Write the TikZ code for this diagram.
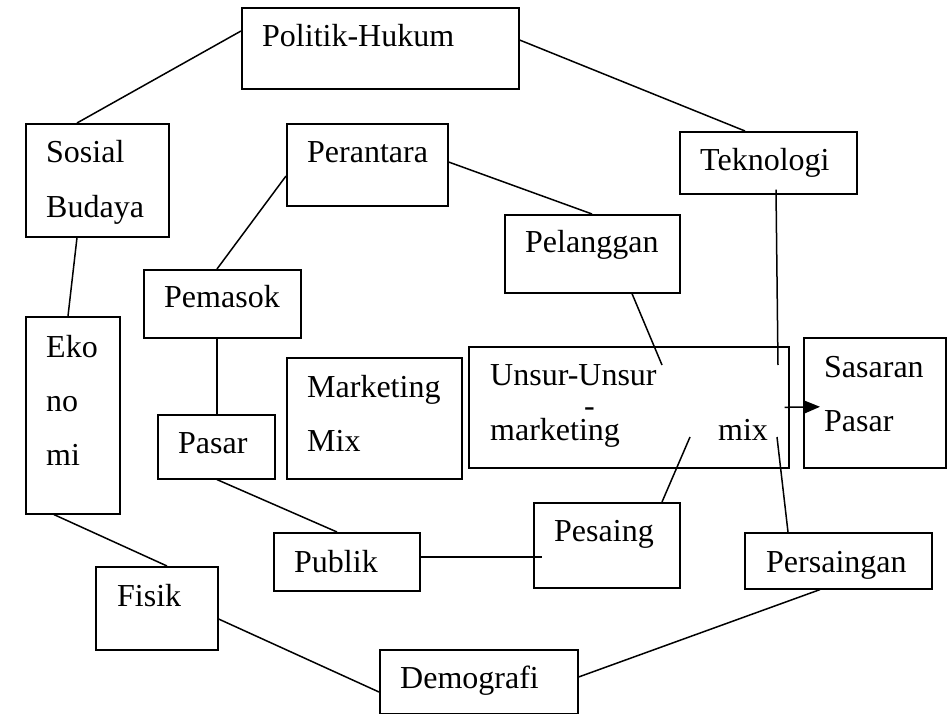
\documentclass[tikz,border=0pt]{standalone}
\usepackage{fontspec}
\setmainfont{Liberation Serif}
\usetikzlibrary{arrows.meta}
\tikzset{
  box/.style={draw, line width=1.6pt, anchor=north west, inner sep=0pt},
  txt/.style={anchor=base west, inner sep=0pt, font=\fontsize{32}{54}\selectfont},
  link/.style={line width=1.5pt}
}
\begin{document}
\begin{tikzpicture}[x=1pt, y=-1pt]
\useasboundingbox (0,0) rectangle (951,714);
% kotak-kotak
\node[box, minimum width=277pt, minimum height=81pt] (politik) at (241,7) {};
\node[box, minimum width=143pt, minimum height=113pt] (sosial) at (25,123) {};
\node[box, minimum width=94pt, minimum height=197pt] (ekonomi) at (25,316) {};
\node[box, minimum width=161pt, minimum height=82pt] (perantara) at (286,123) {};
\node[box, minimum width=157pt, minimum height=68pt] (pemasok) at (143,269) {};
\node[box, minimum width=177pt, minimum height=62pt] (teknologi) at (679,131) {};
\node[box, minimum width=175pt, minimum height=78pt] (pelanggan) at (504,214) {};
\node[box, minimum width=175pt, minimum height=121pt] (mix) at (286,357) {};
\node[box, minimum width=117pt, minimum height=64pt] (pasar) at (157,414) {};
\node[box, minimum width=320pt, minimum height=121pt] (unsur) at (468,346) {};
\node[box, minimum width=142pt, minimum height=130pt] (sasaran) at (803,337) {};
\node[box, minimum width=146pt, minimum height=58pt] (publik) at (273,532) {};
\node[box, minimum width=146pt, minimum height=85pt] (pesaing) at (533,502) {};
\node[box, minimum width=187pt, minimum height=56pt] (persaingan) at (744,532) {};
\node[box, minimum width=122pt, minimum height=83pt] (fisik) at (95,566) {};
\node[box, minimum width=198pt, minimum height=64pt] (demografi) at (379,649) {};

% tulisan
\node[txt] (tPolitik) at (262,47) {Politik-Hukum};
\node[txt] (tSosial) at (46,163) {Sosial};
\node[txt] (tBudaya) at (46,218) {Budaya};
\node[txt] (tEko) at (46,357) {Eko};
\node[txt] (tNo) at (46,411) {no};
\node[txt] (tMi) at (46,465) {mi};
\node[txt] (tPerantara) at (307,163) {Perantara};
\node[txt] (tPemasok) at (164,308) {Pemasok};
\node[txt] (tTeknologi) at (700,171) {Teknologi};
\node[txt] (tPelanggan) at (525,253) {Pelanggan};
\node[txt] (tMarketing) at (307,397) {Marketing};
\node[txt] (tMix) at (307,451) {Mix};
\node[txt] (tPasar) at (178,453) {Pasar};
\node[txt] (tUnsur) at (490,385) {Unsur-Unsur};
\node[txt] (tStrip) at (584,416) {-};
\node[txt] (tMarketing2) at (490,440) {marketing};
\node[txt] (tMix2) at (718,440) {mix};
\node[txt] (tSasaran) at (824,377) {Sasaran};
\node[txt] (tPasar2) at (824,431) {Pasar};
\node[txt] (tPublik) at (294,572) {Publik};
\node[txt] (tPesaing) at (554,541) {Pesaing};
\node[txt] (tPersaingan) at (766,572) {Persaingan};
\node[txt] (tFisik) at (117,606) {Fisik};
\node[txt] (tDemografi) at (400,688) {Demografi};

% garis
\draw[link] ([shift={(0,24)}]politik.north west) -- ([shift={(52,0)}]sosial.north west);
\draw[link] ([shift={(0,33)}]politik.north east) -- ([shift={(66,0)}]teknologi.north west);
\draw[link] ([shift={(52,0)}]sosial.south west) -- ([shift={(43,0)}]ekonomi.north west);
\draw[link] ([shift={(0,53)}]perantara.north west) -- ([shift={(74,0)}]pemasok.north west);
\draw[link] ([shift={(0,39)}]perantara.north east) -- ([shift={(88,0)}]pelanggan.north west);
\draw[link] ([shift={(74,0)}]pemasok.south west) -- ([shift={(60,0)}]pasar.north west);
\draw[link] ([shift={(128,0)}]pelanggan.south west) -- ([shift={(194,19)}]unsur.north west);
\draw[link] ([shift={(97,-5)}]teknologi.south west) -- ([shift={(310,19)}]unsur.north west);
\draw[link] ([shift={(60,0)}]pasar.south west) -- ([shift={(64,0)}]publik.north west);
\draw[link] ([shift={(0,25)}]publik.north east) -- ([shift={(9,55)}]pesaing.north west);
\draw[link] ([shift={(129,0)}]pesaing.north west) -- ([shift={(222,91)}]unsur.north west);
\draw[link] ([shift={(44,0)}]persaingan.north west) -- ([shift={(309,91)}]unsur.north west);
\draw[link] ([shift={(29,0)}]ekonomi.south west) -- ([shift={(72,0)}]fisik.north west);
\draw[link] ([shift={(0,53)}]fisik.north east) -- ([shift={(0,43)}]demografi.north west);
\draw[link] ([shift={(0,28)}]demografi.north east) -- ([shift={(76,0)}]persaingan.south west);
\draw[link, -{Triangle[length=16pt, width=13pt]}] ([shift={(-5,0)}]unsur.east) -- ([shift={(17,4)}]sasaran.west);
\end{tikzpicture}
\end{document}
